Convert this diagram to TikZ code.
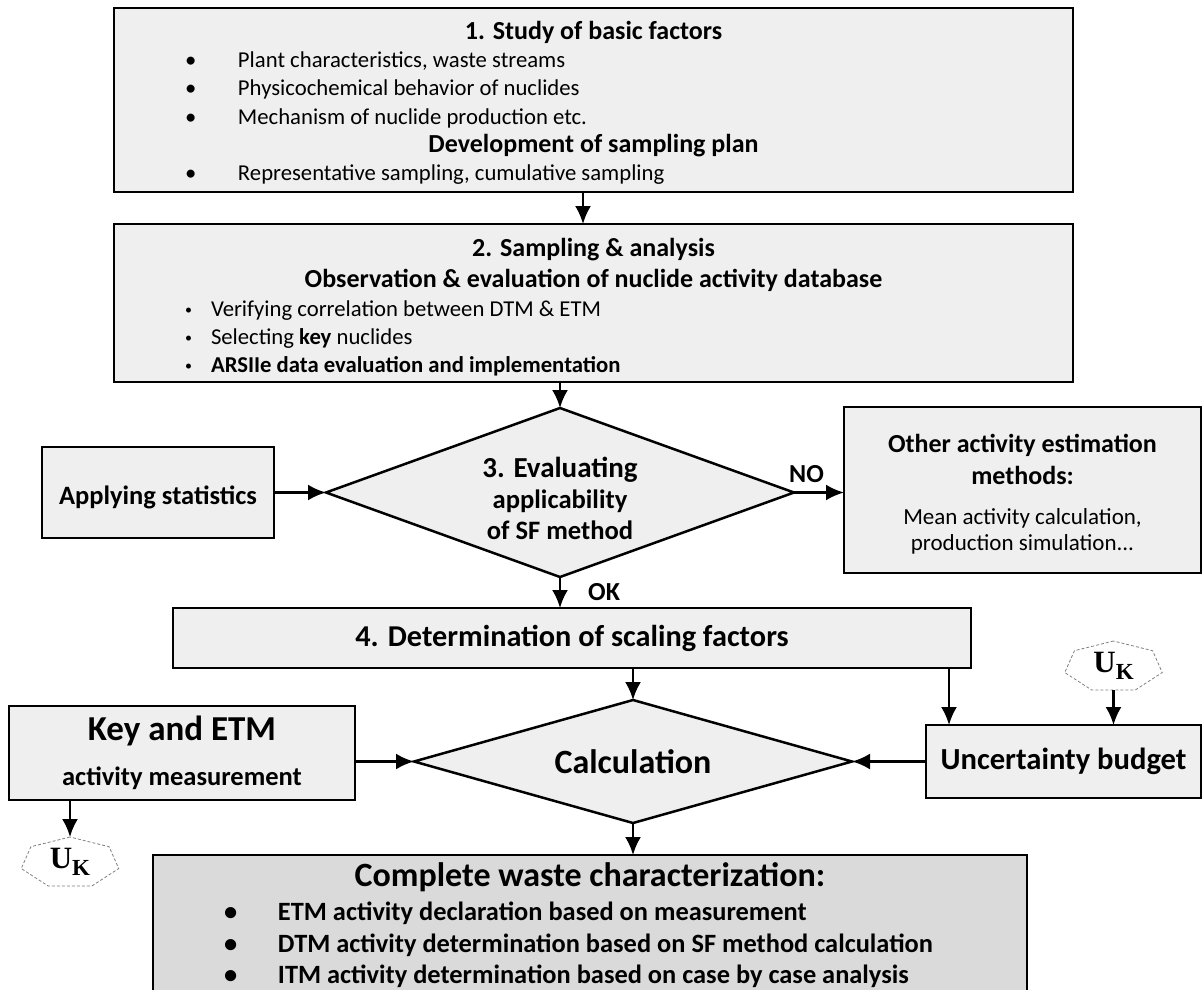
\documentclass[tikz,border=0pt]{standalone}
\usepackage{fontspec}
\setmainfont{Carlito}
\newfontfamily\serifuk{Liberation Serif}
\usetikzlibrary{arrows.meta,positioning,shapes.geometric}
\definecolor{boxfill}{HTML}{EFEFEF}
\definecolor{resultfill}{HTML}{DADADA}
\newcommand{\fs}[2]{\fontsize{#1}{#2}\selectfont}
\newcommand{\itemline}[4][\textbullet]{\makebox[#2][l]{\makebox[#3][l]{#1}#4}}
\newcommand{\smallbullet}{\raisebox{2pt}{\fs{14}{14}\textbullet}}
\newcommand{\uk}{{\serifuk\bfseries\fs{31}{31}U\raisebox{-7pt}{\fs{23}{23}K}}}

\begin{document}
\begin{tikzpicture}[
  x=1pt, y=-1pt,
  box/.style={draw, rectangle, line width=2.5pt, fill=boxfill, align=center, inner sep=0pt, outer sep=0pt},
  decision/.style={draw, diamond, line width=2.5pt, fill=boxfill, align=center, inner sep=0pt, outer sep=0pt},
  arr/.style={line width=2.4pt, -{Latex[length=18pt,width=16pt]}},
  answer/.style={font=\bfseries\fs{26}{26}, inner sep=2pt},
  hept/.style={draw=gray, densely dashed, line width=0.8pt}
]
\useasboundingbox (0,0) rectangle (1203,989);
\clip (0,0) rectangle (1203,989);

\node[box, minimum width=959pt, minimum height=184pt, font=\fs{22.7}{28.2}] (study) at (593.5,100)
  {{\bfseries\fs{26}{28.2}\rule{0pt}{24pt}1. Study of basic factors}\\
   \itemline{817pt}{53pt}{Plant characteristics, waste streams}\\
   \itemline{817pt}{53pt}{Physicochemical behavior of nuclides}\\
   \itemline{817pt}{53pt}{Mechanism of nuclide production etc.}\\
   {\bfseries\fs{26}{28.2}Development of sampling plan}\\
   \itemline{817pt}{53pt}{Representative sampling, cumulative sampling}};
\node[box, below=32pt of study, minimum width=959pt, minimum height=158pt, font=\fs{22.7}{28}] (sampling)
  {{\bfseries\fs{26}{28}\rule{0pt}{27.5pt}2. Sampling \& analysis}\\[3pt]
   {\bfseries\fs{26}{28}Observation \& evaluation of nuclide activity database}\\[1pt]
   \itemline[\smallbullet]{817pt}{26pt}{Verifying correlation between DTM \& ETM}\\
   \itemline[\smallbullet]{817pt}{26pt}{Selecting \textbf{key} nuclides}\\
   \itemline[\smallbullet]{817pt}{26pt}{\textbf{ARSIIe data evaluation and implementation}}};
\node[decision, below=26pt of sampling, xshift=-33.5pt, minimum width=468pt, minimum height=169pt, aspect=2.77, font=\bfseries\fs{26.6}{31}] (eval)
  {{\fs{29}{31}\rule{0pt}{32pt}3. Evaluating}\\ applicability\\ of SF method};
\node[box, left=52pt of eval, minimum width=232pt, minimum height=91pt, font=\bfseries\fs{26.5}{30}] (apply) {\rule{0pt}{28pt}Applying statistics};
\node[box, right=50pt of eval, yshift=2.5pt, minimum width=357pt, minimum height=166pt, font=\fs{23}{26}] (other)
  {{\bfseries\fs{26}{26}\rule{0pt}{27.5pt}Other activity estimation}\\[6pt]
   {\bfseries\fs{26}{26}methods:}\\[14pt]
   Mean activity calculation,\\ production simulation...};
\node[box, below=31pt of eval, xshift=12pt, minimum width=798pt, minimum height=60pt, font=\bfseries\fs{30.3}{30}] (scaling) {4. Determination of scaling factors};
\node[decision, below=32pt of scaling, xshift=61pt, minimum width=438pt, minimum height=123pt, aspect=3.56, font=\bfseries\fs{34}{34}] (calc) {Calculation};
\node[box, left=59pt of calc, yshift=8.5pt, minimum width=346pt, minimum height=94pt, font=\bfseries\fs{26.5}{34}] (key)
  {{\fs{35}{34}Key and ETM}\\[11pt] activity measurement};
\node[box, right=74pt of calc, minimum width=275pt, minimum height=73pt, font=\bfseries\fs{30.6}{31}] (budget) {Uncertainty budget};
\node[minimum width=100pt, minimum height=49pt, inner sep=0pt, outer sep=0pt, above=35pt of budget, xshift=50pt] (ukright) {\uk};
\node[minimum width=100pt, minimum height=49pt, inner sep=0pt, outer sep=0pt, below=37pt of key, xshift=-112pt] (ukleft) {\uk};
\node[box, fill=resultfill, below=32pt of calc, xshift=-43pt, minimum width=874pt, minimum height=150pt, font=\bfseries\fs{26.4}{31.5}] (complete)
  {{\fs{34}{31.5}Complete waste characterization:}\\[3pt]
   \itemline{732pt}{54pt}{ETM activity declaration based on measurement}\\
   \itemline{732pt}{54pt}{DTM activity determination based on SF method calculation}\\
   \itemline{732pt}{54pt}{ITM activity determination based on case by case analysis}\rule[-14pt]{0pt}{14pt}};

% heptagons round the U_K marks
\foreach \n in {ukright,ukleft} {
  \begin{scope}[shift={([yshift=-1.3pt]\n.center)}]
    \draw[hept] (90:50pt and 25.8pt) \foreach \k in {1,...,6} {-- (90+\k*360/7:50pt and 25.8pt)} -- cycle;
  \end{scope}
}

\draw[arr] ([xshift=-10.5pt]study.south) -- ([xshift=-10.5pt]sampling.north);
\draw[arr] (sampling.south -| eval.north) -- (eval.north);
\draw[arr] (apply.east) -- (eval.west);
\draw[arr] (eval.east) -- (eval.east -| other.west) node[answer, pos=0.25, above=7pt] {NO};
\draw[arr] (eval.south) -- (eval.south |- scaling.north) node[answer, midway, right=25pt] {OK};
\draw[arr] (calc.north |- scaling.south) -- (calc.north);
\draw[arr] ([xshift=-22pt]scaling.south east) -- ([xshift=-22pt]scaling.south east |- budget.north);
\draw[arr] (ukright.south) -- (ukright.south |- budget.north);
\draw[arr] (key.east |- calc.west) -- (calc.west);
\draw[arr] (budget.west |- calc.east) -- (calc.east);
\draw[arr] (key.south -| ukleft.north) -- (ukleft.north);
\draw[arr] (calc.south) -- (calc.south |- complete.north);
\end{tikzpicture}
\end{document}
